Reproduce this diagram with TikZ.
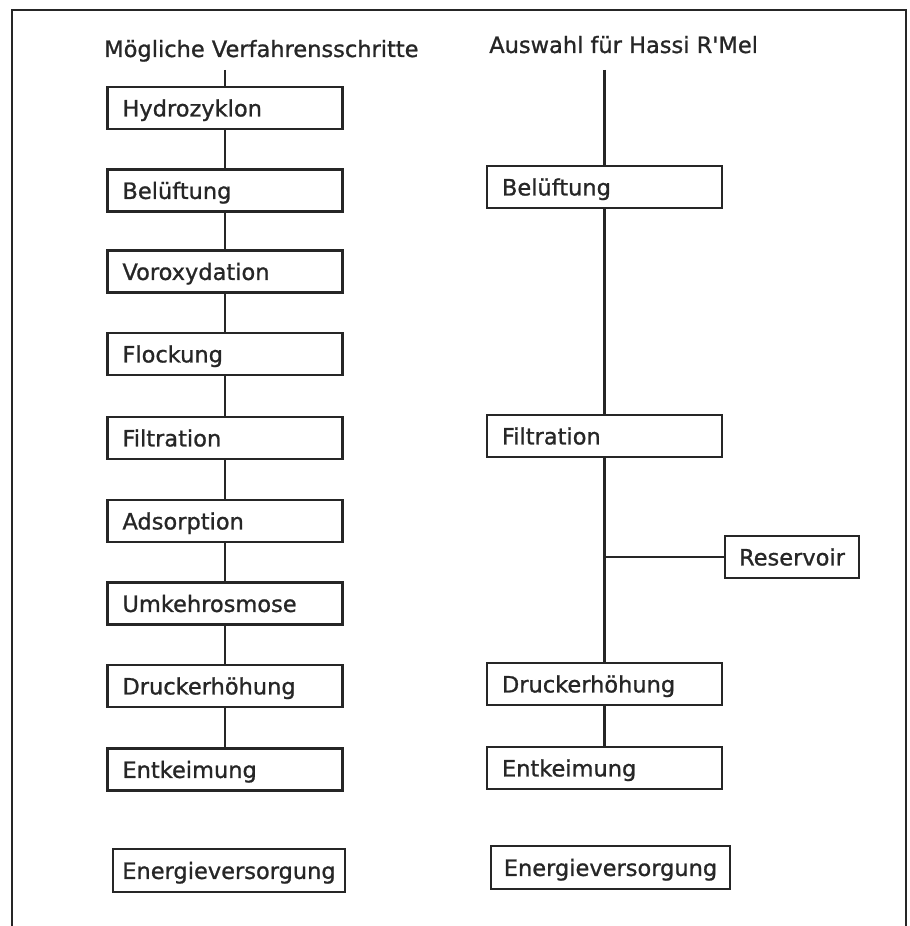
\documentclass[tikz,border=0pt]{standalone}
\usepackage{fontspec}
\setmainfont{DejaVu Sans}[Ligatures=TeXOff, FakeBold=1]
\colorlet{inkCol}{black!85}
\tikzset{
stepbox/.style={rectangle, draw=inkCol, line width=1.5pt, minimum height=1.05cm, text width=5.125cm, align=left, inner xsep=0.375cm, inner ysep=0pt, text height=12pt, text depth=0pt},
supplybox/.style={rectangle, draw=inkCol, line width=1.5pt, minimum height=1.08cm, inner ysep=0pt, text height=12pt, text depth=0pt},
headstyle/.style={anchor=base west, inner sep=0pt},
wire/.style={draw=inkCol, line width=1.5pt}
}
\begin{document}
\begin{tikzpicture}[x=0.025cm, y=-0.025cm, font=\fontsize{16}{19}\selectfont, text=inkCol]
\useasboundingbox (0,0) rectangle (909,926);
% frame
\draw[wire] (12,926) -- (12,10) -- (906,10) -- (906,926);

\node[headstyle] (hleft) at (104,57) {Mögliche Verfahrensschritte};
\node[headstyle] (hright) at (489,53) {Auswahl für Hassi R'Mel};

% left column
\foreach \name/\txt/\y in {l1/Hydrozyklon/108, l2/Belüftung/190.5, l3/Voroxydation/271.5, l4/Flockung/354, l5/Filtration/438, l6/Adsorption/521, l7/Umkehrosmose/603.5, l8/Druckerhöhung/686, l9/Entkeimung/769.5}
  \node[stepbox] (\name) at (225,\y) {\txt};
\coordinate (ltop) at (225,70);
\draw[wire] (ltop) -- (l1.north);
\foreach \a/\b in {l1/l2, l2/l3, l3/l4, l4/l5, l5/l6, l6/l7, l7/l8, l8/l9}
  \draw[wire] (\a.south) -- (\b.north);
\node[supplybox, minimum width=5.8cm] (lsup) at (229,870.5) {Energieversorgung};

% right column
\foreach \name/\txt/\y in {r1/Belüftung/187, r2/Filtration/436, r3/Druckerhöhung/684, r4/Entkeimung/768}
  \node[stepbox] (\name) at (604.5,\y) {\txt};
\coordinate (rtop) at (604.5,70);
\draw[wire] (rtop) -- (r1.north);
\draw[wire] (r1.south) -- (r2.north);
\draw[wire] (r2.south) -- (r3.north);
\draw[wire] (r3.south) -- (r4.north);
\node[supplybox, minimum width=5.975cm] (rsup) at (610.5,867.5) {Energieversorgung};

\node[supplybox, minimum width=3.35cm, minimum height=1.05cm] (res) at (792,557) {Reservoir};
\draw[wire] (res.west) -- (res.west -| r2.south);
\end{tikzpicture}
\end{document}
